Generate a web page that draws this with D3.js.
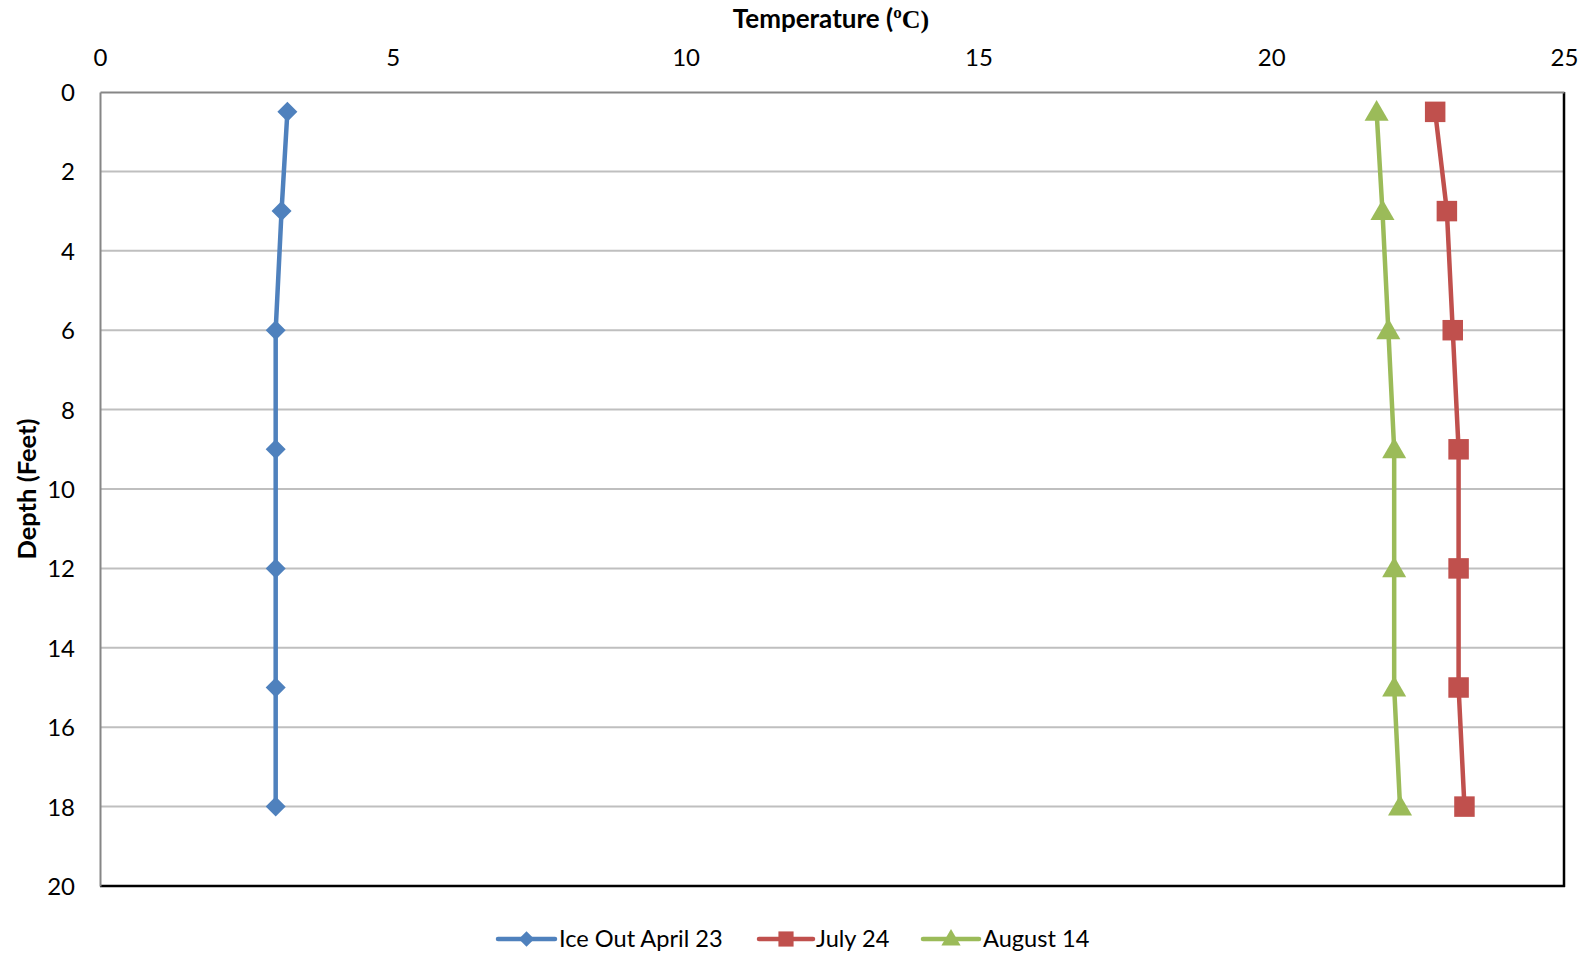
<!DOCTYPE html>
<html>
<head>
<meta charset="utf-8">
<script src="https://cdn.jsdelivr.net/npm/d3@7"></script>
<style>
  html, body { margin: 0; padding: 0; background: #fff; }
  svg { display: block; }
  text { font-family: Lato, "Open Sans", sans-serif; fill: #000; }
</style>
</head>
<body>
<svg id="chart" width="1592" height="956"></svg>
<script>
const depths = [0.5, 3, 6, 9, 12, 15, 18];
const seriesNames = ["Ice Out April 23", "July 24", "August 14"];
const iceOutApril23 = [3.2, 3.1, 3.0, 3.0, 3.0, 3.0, 3.0];
const july24 = [22.8, 23.0, 23.1, 23.2, 23.2, 23.2, 23.3];
const august14 = [21.8, 21.9, 22.0, 22.1, 22.1, 22.1, 22.2];
const xTicks = [0, 5, 10, 15, 20, 25];
const yTicks = [0, 2, 4, 6, 8, 10, 12, 14, 16, 18, 20];

const colors = ["#4F81BD", "#C0504D", "#9BBB59"];
// rhombus (square rotated 45deg)
const squareDiamond = {
  draw(context, size) {
    const r = Math.sqrt(size / 2);
    context.moveTo(0, -r);
    context.lineTo(r, 0);
    context.lineTo(0, r);
    context.lineTo(-r, 0);
    context.closePath();
  }
};
const markers = [squareDiamond, d3.symbolSquare, d3.symbolTriangle];
const allValues = [iceOutApril23, july24, august14];

const svg = d3.select("#chart");
const pLeft = 100, pRight = 1564, pTop = 92, pBottom = 886;

const x = d3.scaleLinear().domain([0, 25]).range([pLeft, pRight]);
const y = d3.scaleLinear().domain([0, 20]).range([pTop, pBottom]);

// gridlines
svg.append("g").selectAll("line")
  .data(yTicks.filter(t => t > 0 && t < 20))
  .join("line")
  .attr("x1", pLeft).attr("x2", pRight)
  .attr("y1", d => y(d)).attr("y2", d => y(d))
  .attr("stroke", "#BFBFBF").attr("stroke-width", 2);

// plot border (right/bottom black)
svg.append("line").attr("x1", pRight).attr("x2", pRight).attr("y1", pTop).attr("y2", pBottom + 1)
  .attr("stroke", "#000").attr("stroke-width", 2.5);
svg.append("line").attr("x1", pLeft).attr("x2", pRight + 1).attr("y1", pBottom).attr("y2", pBottom)
  .attr("stroke", "#000").attr("stroke-width", 2.5);

// axes (top and left, gray)
const xAxis = d3.axisTop(x).tickValues(xTicks).tickSize(0).tickPadding(0).tickFormat(d3.format("d"));
const gx = svg.append("g").attr("transform", `translate(0,${pTop})`).call(xAxis);
gx.select(".domain").attr("stroke", "#868686").attr("stroke-width", 2);
gx.selectAll(".tick text").attr("font-size", 24).attr("font-family", "Lato, sans-serif")
  .attr("fill", "#000").attr("y", -34).attr("dy", "0.35em");

const yAxis = d3.axisLeft(y).tickValues(yTicks).tickSize(0).tickPadding(0).tickFormat(d3.format("d"));
const gy = svg.append("g").attr("transform", `translate(${pLeft},0)`).call(yAxis);
gy.select(".domain").attr("stroke", "#868686").attr("stroke-width", 2);
gy.selectAll(".tick text").attr("font-size", 24).attr("font-family", "Lato, sans-serif")
  .attr("fill", "#000").attr("x", -25).attr("dy", "0.35em");

// axis titles
const title = svg.append("text").attr("x", 831).attr("y", 28)
  .attr("text-anchor", "middle").attr("font-size", 26).attr("font-weight", "bold");
title.append("tspan").text("Temperature (");
title.append("tspan").attr("font-family", "Liberation Serif, serif").text("ºC)");

svg.append("text")
  .attr("transform", `translate(36,${(pTop + pBottom) / 2}) rotate(-90)`)
  .attr("text-anchor", "middle").attr("font-size", 25.5).attr("font-weight", "bold")
  .text("Depth (Feet)");

// series
const line = d3.line().x(d => x(d.t)).y(d => y(d.d));
allValues.forEach((vals, i) => {
  const pts = vals.map((t, k) => ({ t, d: depths[k] }));
  svg.append("path").datum(pts).attr("d", line)
    .attr("fill", "none").attr("stroke", colors[i]).attr("stroke-width", 4.5)
    .attr("stroke-linejoin", "round");
  const sz = i === 0 ? 200 : (i === 1 ? 420 : 250);
  svg.append("g").selectAll("path").data(pts).join("path")
    .attr("transform", d => `translate(${x(d.t)},${y(d.d) + (i === 2 ? 2 : 0)})`)
    .attr("d", d3.symbol().type(markers[i]).size(sz))
    .attr("fill", colors[i]);
});

// legend
const legendItems = [
  { x0: 498, x1: 555, tx: 559 },
  { x0: 759, x1: 813, tx: 816 },
  { x0: 923, x1: 979, tx: 983 }
];
const ly = 939;
seriesNames.forEach((name, i) => {
  const it = legendItems[i];
  const g = svg.append("g");
  g.append("line").attr("x1", it.x0).attr("x2", it.x1).attr("y1", ly).attr("y2", ly)
    .attr("stroke", colors[i]).attr("stroke-width", 4.5).attr("stroke-linecap", "round");
  const sz = i === 0 ? 120 : (i === 1 ? 230 : 160);
  g.append("path").attr("transform", `translate(${(it.x0 + it.x1) / 2},${ly + (i === 2 ? 1 : 0)})`)
    .attr("d", d3.symbol().type(markers[i]).size(sz)).attr("fill", colors[i]);
  g.append("text").attr("x", it.tx).attr("y", ly).attr("dy", "0.35em")
    .attr("font-size", 23.6).text(name);
});
</script>
</body>
</html>
